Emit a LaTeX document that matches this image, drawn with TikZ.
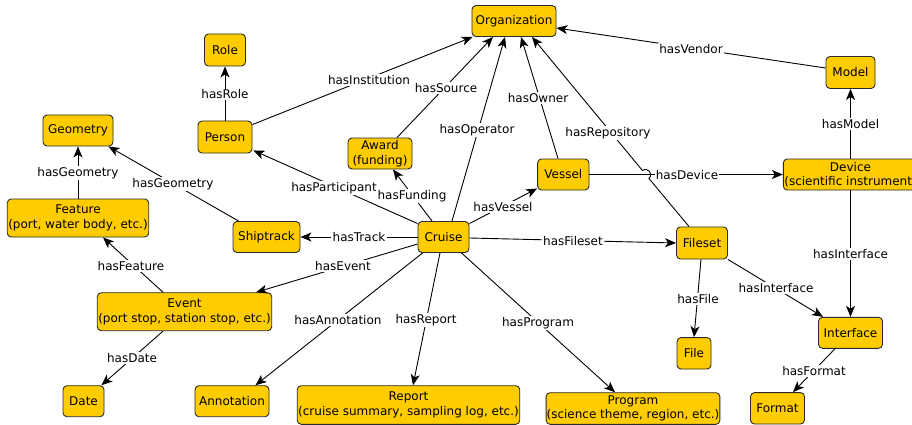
\documentclass[tikz,border=0pt]{standalone}
\usepackage{fontspec}
\setmainfont{DejaVu Sans}
\usetikzlibrary{arrows.meta,calc}
\definecolor{boxfill}{HTML}{FFCC00}
\definecolor{boxline}{HTML}{2A2A2A}
\tikzset{
  cls/.style={draw=boxline, line width=0.9pt, fill=boxfill, rounded corners=4pt,
    inner sep=1pt, align=center, font=\fontsize{12}{14.5}\selectfont},
  lbl/.style={fill=white, inner sep=1.2pt, font=\fontsize{12}{14.5}\selectfont},
  rel/.style={line width=0.9pt, -{Stealth[length=11pt,width=9pt,inset=3pt]}},
}
\begin{document}
\begin{tikzpicture}[x=1pt,y=-1pt]
\fill[white] (0,0) rectangle (912,425);
\useasboundingbox (0,0) rectangle (912,425);

% classes
\node[cls, minimum width=84pt, minimum height=31pt] (org) at (514,21) {Organization};
\node[cls, minimum width=41pt, minimum height=32pt] (role) at (225,50) {Role};
\node[cls, minimum width=54pt, minimum height=32pt] (person) at (225,137) {Person};
\node[cls, minimum width=70pt, minimum height=31pt] (geometry) at (78,130.5) {Geometry};
\node[cls, minimum width=64pt, minimum height=31pt] (award) at (380,153.5) {Award\\(funding)};
\node[cls, minimum width=140pt, minimum height=38pt] (feature) at (78,218) {Feature\\(port, water body, etc.)};
\node[cls, minimum width=67pt, minimum height=31pt] (shiptrack) at (266.5,237) {Shiptrack};
\node[cls, minimum width=51pt, minimum height=31pt] (cruise) at (443.5,237) {Cruise};
\node[cls, minimum width=169pt, minimum height=38pt] (event) at (184.5,311.7) {Event\\(port stop, station stop, etc.)};
\node[cls, minimum width=41pt, minimum height=31pt] (date) at (83.5,401.2) {Date};
\node[cls, minimum width=74pt, minimum height=31pt] (annotation) at (232,401.2) {Annotation};
\node[cls, minimum width=215pt, minimum height=38.6pt] (report) at (408.5,405) {Report\\(cruise summary, sampling log, etc.)};
\node[cls, minimum width=172pt, minimum height=31.6pt, inner sep=0.5pt] (program) at (633,408.5) {Program\\(science theme, region, etc.)};
\node[cls, minimum width=51.4pt, minimum height=31pt] (vessel) at (563.3,174.5) {Vessel};
\node[cls, minimum width=134pt, minimum height=31pt] (device) at (850.5,174.5) {Device\\(scientific instrument)};
\node[cls, minimum width=49pt, minimum height=32pt] (model) at (850.5,72.5) {Model};
\node[cls, minimum width=51pt, minimum height=32pt] (fileset) at (702,243) {Fileset};
\node[cls, minimum width=34pt, minimum height=31.4pt] (file) at (694,353.3) {File};
\node[cls, minimum width=64pt, minimum height=31pt] (interface) at (850.5,332.8) {Interface};
\node[cls, minimum width=54pt, minimum height=31.4pt] (format) at (777.5,408.3) {Format};

% relations
\draw[rel] (person.north) -- (role.south);
\draw[rel] ($(person.north east)+(0,4)$) -- ($(org.south west)+(1,0)$);
\draw[rel] ($(award.north)+(17,0)$) -- ($(org.south)+(-21,0)$);
\draw[rel] ($(cruise.north)+(8.5,0)$) -- ($(org.south)+(-9,0)$);
\draw[rel] ($(vessel.north)+(-5.3,0)$) -- ($(org.south)+(7,0)$);
% hasRepository with a hop over hasDevice
\coordinate (hopA) at (648.9,178.4);
\coordinate (hopB) at (642.5,170.6);
\draw[rel] ($(fileset.north)+(-13,0)$) -- (hopA)
  .. controls ($(hopA)+(5.1,-4.2)$) and ($(hopB)+(5.1,-4.2)$) .. (hopB)
  -- ($(org.south)+(18,0)$);
\draw[rel] ($(model.west)+(0,-4.5)$) -- ($(org.east)+(0,7)$);
\draw[rel] (device.north) -- (model.south);
\draw[rel] (vessel.east) -- (device.west);
\draw[rel] (device.south) -- (interface.north);
\draw[rel] (fileset.south east) -- ($(interface.north west)+(5,0)$);
\draw[rel] ($(fileset.south)+(-1,0)$) -- (file.north);
\draw[rel] ($(interface.south)+(-15.5,0)$) -- ($(format.north)+(15.5,0)$);
\draw[rel] ($(cruise.east)+(0,1)$) -- (fileset.west);
\draw[rel] ($(cruise.south)+(18,0)$) -- ($(program.north)+(-18,0)$);
\draw[rel] ($(cruise.south)+(-3.5,0)$) -- ($(report.north)+(4.5,0)$);
\draw[rel] ($(cruise.south west)+(5,0)$) -- ($(annotation.north east)+(-14,0)$);
\draw[rel] ($(cruise.west)+(0,7)$) -- ($(event.north east)+(-16,0)$);
\draw[rel] (cruise.west) -- (shiptrack.east);
\draw[rel] ($(cruise.north west)+(0,2.5)$) -- ($(person.south east)+(1,-3)$);
\draw[rel] ($(cruise.north)+(-11.5,0)$) -- ($(award.south)+(13,0)$);
\draw[rel] ($(cruise.north east)+(0,2.5)$) -- ($(vessel.south west)+(0,-2)$);
\draw[rel] ($(shiptrack.north west)+(6,0)$) -- ($(geometry.south east)+(-5,0)$);
\draw[rel] (feature.north) -- (geometry.south);
\draw[rel] ($(event.north)+(-21.5,0)$) -- ($(feature.south)+(25,0)$);
\draw[rel] ($(event.south)+(-21.5,0)$) -- ($(date.north east)+(-3,0)$);

% labels
\node[lbl] (l1) at (225,94.5) {hasRole};
\node[lbl] (l2) at (369,80) {hasInstitution};
\node[lbl] (l3) at (446,88) {hasSource};
\node[lbl] (l4) at (477,130) {hasOperator};
\node[lbl] (l5) at (538,98) {hasOwner};
\node[lbl] (l6) at (608,133) {hasRepository};
\node[lbl] (l7) at (691,49) {hasVendor};
\node[lbl] (l8) at (850.5,124) {hasModel};
\node[lbl] (l9) at (687,175) {hasDevice};
\node[lbl] (l10) at (850.5,254) {hasInterface};
\node[lbl] (l11) at (776,288) {hasInterface};
\node[lbl] (l12) at (698,299) {hasFile};
\node[lbl] (l13) at (814,371) {hasFormat};
\node[lbl] (l14) at (573,241) {hasFileset};
\node[lbl] (l15) at (538,323) {hasProgram};
\node[lbl] (l16) at (426,320) {hasReport};
\node[lbl] (l17) at (338,320) {hasAnnotation};
\node[lbl] (l18) at (343,266) {hasEvent};
\node[lbl] (l19) at (359,237) {hasTrack};
\node[lbl] (l20) at (334,188) {hasParticipant};
\node[lbl] (l21) at (412,196) {hasFunding};
\node[lbl] (l22) at (503,207) {hasVessel};
\node[lbl] (l23) at (173,184) {hasGeometry};
\node[lbl] (l24) at (78,173) {hasGeometry};
\node[lbl] (l25) at (131,266) {hasFeature};
\node[lbl] (l26) at (132,358) {hasDate};
\end{tikzpicture}
\end{document}
